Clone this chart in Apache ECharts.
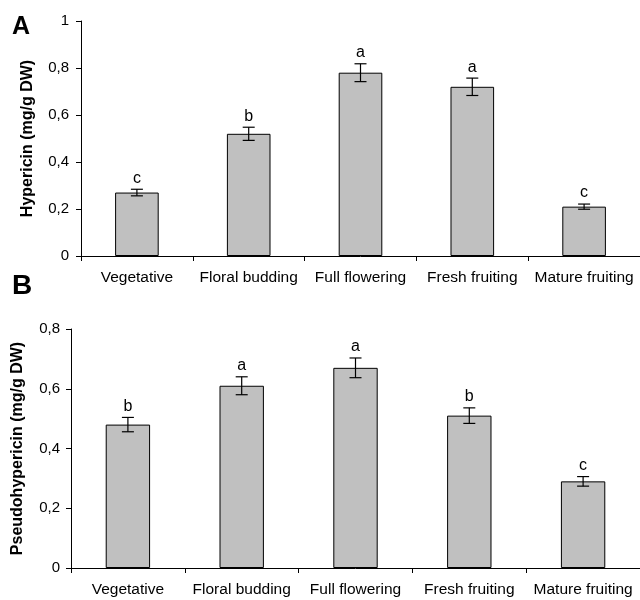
<!DOCTYPE html>
<html>
<head>
<meta charset="utf-8">
<script src="https://cdn.jsdelivr.net/npm/echarts@6/dist/echarts.min.js"></script>
<style>
html,body{margin:0;padding:0;background:#fff;}
#chart{width:640px;height:600px;}
</style>
</head>
<body>
<div id="chart"></div>
<script>
const categories = ['Vegetative', 'Floral budding', 'Full flowering', 'Fresh fruiting', 'Mature fruiting'];

const hypericin = [0.27, 0.52, 0.78, 0.72, 0.21];
const hypericinErr = [0.014, 0.028, 0.038, 0.037, 0.011];
const hypericinLetters = ['c', 'b', 'a', 'a', 'c'];

const pseudohypericin = [0.48, 0.61, 0.67, 0.51, 0.29];
const pseudohypericinErr = [0.024, 0.03, 0.033, 0.026, 0.016];
const pseudohypericinLetters = ['b', 'a', 'a', 'b', 'c'];

const yTicksA = ['0', '0,2', '0,4', '0,6', '0,8', '1'];
const yTicksB = ['0', '0,2', '0,4', '0,6', '0,8'];

const FONT = 'Arial, "Liberation Sans", sans-serif';

function errRender(letters) {
  return function (params, api) {
    const i = api.value(0);
    const v = api.value(1);
    const e = api.value(2);
    const hi = api.coord([i, v + e]);
    const lo = api.coord([i, v - e]);
    const cap = 6;
    const st = { stroke: '#000', lineWidth: 1.2 };
    return {
      type: 'group',
      children: [
        { type: 'line', shape: { x1: hi[0], y1: hi[1], x2: lo[0], y2: lo[1] }, style: st },
        { type: 'line', shape: { x1: hi[0] - cap, y1: hi[1], x2: hi[0] + cap, y2: hi[1] }, style: st },
        { type: 'line', shape: { x1: lo[0] - cap, y1: lo[1], x2: lo[0] + cap, y2: lo[1] }, style: st },
        {
          type: 'text',
          style: {
            text: letters[params.dataIndex],
            x: hi[0], y: hi[1] - 3,
            align: 'center', verticalAlign: 'bottom',
            fontSize: 16, fontFamily: FONT, fill: '#000'
          }
        }
      ]
    };
  };
}

function xAxisCfg(gridIndex) {
  return {
    type: 'category', gridIndex: gridIndex, data: categories, boundaryGap: true,
    axisLine: { show: true, lineStyle: { color: '#000', width: 1 } },
    axisTick: { show: true, interval: 0, length: 5, lineStyle: { color: '#000' } },
    axisLabel: { interval: 0, margin: 14, fontSize: 15.5, fontFamily: FONT, color: '#000' },
    splitLine: { show: false }
  };
}

function yAxisCfg(gridIndex, max, name, ticks, margin) {
  return {
    type: 'value', gridIndex: gridIndex, min: 0, max: max, interval: 0.2,
    name: name, nameLocation: 'middle', nameGap: 45, nameRotate: 90,
    nameTextStyle: { fontSize: 16, fontWeight: 'bold', fontFamily: FONT, color: '#000' },
    axisLine: { show: true, lineStyle: { color: '#000', width: 1 } },
    axisTick: { show: true, length: 5, lineStyle: { color: '#000' } },
    axisLabel: {
      margin: margin, fontSize: 15, fontFamily: FONT, color: '#000',
      formatter: function (v, idx) { return ticks[idx]; }
    },
    splitLine: { show: false }
  };
}

const chart = echarts.init(document.getElementById('chart'), null, { renderer: 'canvas' });
chart.setOption({
  backgroundColor: '#fff',
  animation: false,
  graphic: [
    { type: 'text', left: 12, top: 15, style: { text: 'A', fontSize: 25, fontWeight: 'bold', fontFamily: FONT, fill: '#000' } },
    { type: 'text', left: 12, top: 272, style: { text: 'B', fontSize: 28, fontWeight: 'bold', fontFamily: FONT, fill: '#000' } }
  ],
  grid: [
    { left: 81, top: 21, width: 560, height: 235, containLabel: false },
    { left: 71, top: 329, width: 572, height: 239, containLabel: false }
  ],
  xAxis: [xAxisCfg(0), xAxisCfg(1)],
  yAxis: [
    yAxisCfg(0, 1, 'Hypericin (mg/g DW)', yTicksA, 12),
    yAxisCfg(1, 0.8, 'Pseudohypericin (mg/g DW)', yTicksB, 11)
  ],
  series: [
    {
      type: 'bar', xAxisIndex: 0, yAxisIndex: 0, data: hypericin, barWidth: '39%',
      itemStyle: { color: '#c0c0c0', borderColor: '#000', borderWidth: 1 }
    },
    {
      type: 'custom', xAxisIndex: 0, yAxisIndex: 0,
      data: hypericin.map((v, i) => [i, v, hypericinErr[i]]),
      renderItem: errRender(hypericinLetters), z: 5
    },
    {
      type: 'bar', xAxisIndex: 1, yAxisIndex: 1, data: pseudohypericin, barWidth: '39%',
      itemStyle: { color: '#c0c0c0', borderColor: '#000', borderWidth: 1 }
    },
    {
      type: 'custom', xAxisIndex: 1, yAxisIndex: 1,
      data: pseudohypericin.map((v, i) => [i, v, pseudohypericinErr[i]]),
      renderItem: errRender(pseudohypericinLetters), z: 5
    }
  ]
});
</script>
</body>
</html>
